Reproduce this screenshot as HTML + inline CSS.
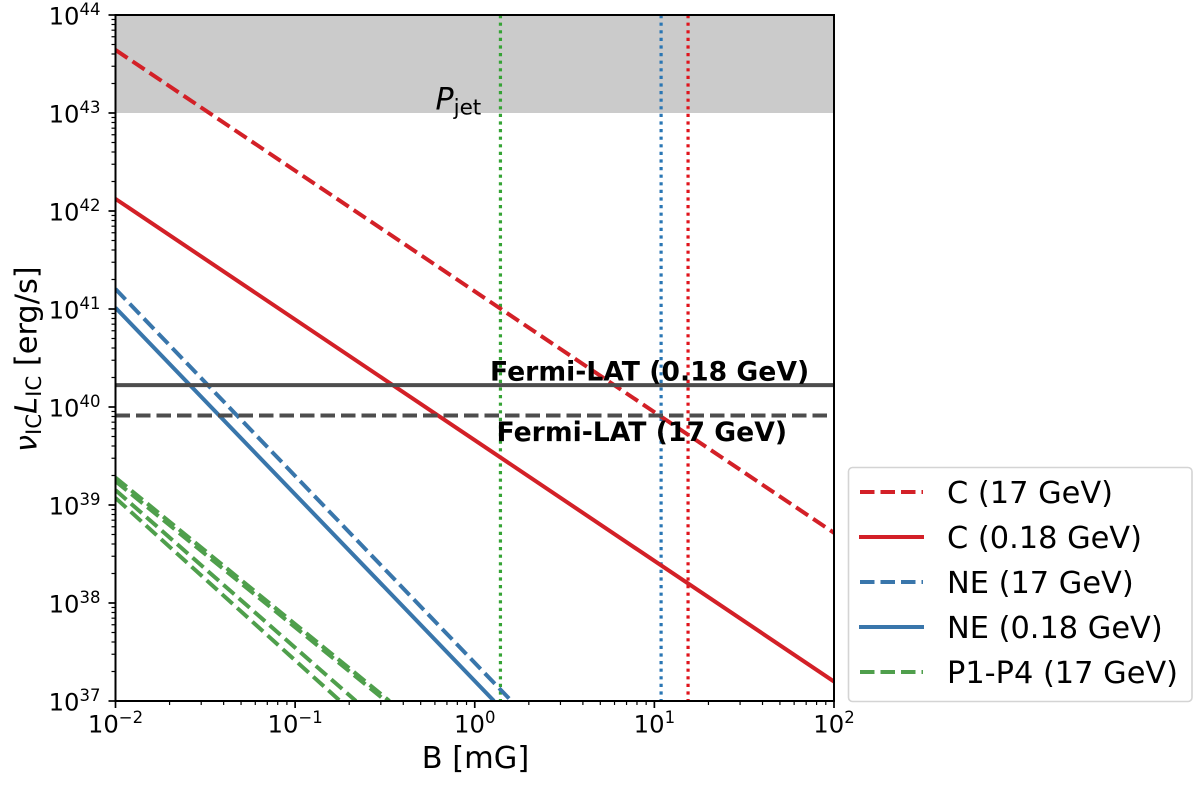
<!DOCTYPE html>
<html lang="en">
<head>
<meta charset="utf-8">
<title>Inverse Compton luminosity versus magnetic field</title>
<style>
html,body{margin:0;padding:0;background:#fff;}
svg{display:block;font-family:"DejaVu Sans","Liberation Sans",sans-serif;filter:blur(0.35px);}
</style>
</head>
<body>
<svg id="chart" width="1200" height="787" viewBox="0 0 1200 787" xmlns="http://www.w3.org/2000/svg">
  <defs><clipPath id="plot-clip"><rect x="115.5" y="15" width="718.5" height="686"/></clipPath></defs>
  <g id="band"></g>
  <g id="series" clip-path="url(#plot-clip)"></g>
  <g id="labels"></g>
  <g id="axes"></g>

  <text x="475.5" y="768" font-size="30.4" text-anchor="middle">B [mG]</text>
  <text transform="translate(36.5,452) rotate(-90)" font-size="30.4"><tspan font-style="italic">ν</tspan><tspan font-size="21.3" dy="4.5">IC</tspan><tspan font-style="italic" dy="-4.5">L</tspan><tspan font-size="21.3" dy="4.5">IC</tspan><tspan dy="-4.5"> [erg/s]</tspan></text>

  <g>
    <rect x="848.5" y="467.5" width="343.5" height="234" rx="4" fill="#fff" stroke="#d4d4d4" stroke-width="1.6"/>
    <g>
      <line x1="860" x2="923" y1="492" y2="492" stroke="#d32027" stroke-width="4" stroke-dasharray="14.5 6"/>
      <text x="947" y="503" font-size="30.4">C (17 GeV)</text>
    </g>
    <g>
      <line x1="859" x2="924" y1="537" y2="537" stroke="#d32027" stroke-width="4"/>
      <text x="947" y="548" font-size="30.4">C (0.18 GeV)</text>
    </g>
    <g>
      <line x1="860" x2="923" y1="582" y2="582" stroke="#3976ab" stroke-width="4" stroke-dasharray="14.5 6"/>
      <text x="947" y="593" font-size="30.4">NE (17 GeV)</text>
    </g>
    <g>
      <line x1="859" x2="924" y1="627" y2="627" stroke="#3976ab" stroke-width="4"/>
      <text x="947" y="638" font-size="30.4">NE (0.18 GeV)</text>
    </g>
    <g>
      <line x1="860" x2="923" y1="672" y2="672" stroke="#4f9f4c" stroke-width="4" stroke-dasharray="14.5 6"/>
      <text x="947" y="683" font-size="30.4">P1-P4 (17 GeV)</text>
    </g>
  </g>
</svg>

<script>
// Chart data
const xDomain = [0.01, 100];
const yDomain = [1e37, 1e44];
const xTickExponents = ["−2", "−1", "0", "1", "2"];
const xTickValues = [0.01, 0.1, 1, 10, 100];
const yTickExponents = ["37", "38", "39", "40", "41", "42", "43", "44"];
const yTickValues = [1e37, 1e38, 1e39, 1e40, 1e41, 1e42, 1e43, 1e44];

const steepB = [0.01, 100];
const cDashed = [4.4e43, 5.2e38];
const cSolid = [1.33e42, 1.58e37];

const neB17 = [0.01, 1.6];
const neDashed = [1.6e41, 1e37];
const neB018 = [0.01, 1.28];
const neSolid = [1.03e41, 1e37];

const p1B = [0.01, 0.335];
const p1Values = [1.9e39, 1e37];
const p2B = [0.01, 0.32];
const p2Values = [1.75e39, 1e37];
const p3B = [0.01, 0.218];
const p3Values = [1.42e39, 1e37];
const p4B = [0.01, 0.178];
const p4Values = [1.18e39, 1e37];

const jetBand = [1e43, 1e44];
const fermiSolid = 1.67e40;
const fermiDashed = 8.2e39;
const vlineC = 15.4;
const vlineNE = 10.9;
const vlineP = 1.39;

// Axis functions
const PX = {l: 115.5, r: 834, t: 15, b: 701};
function xScale(v) {
  const a = Math.log10(xDomain[0]), b = Math.log10(xDomain[1]);
  return PX.l + (Math.log10(v) - a) / (b - a) * (PX.r - PX.l);
}
function yScale(v) {
  const a = Math.log10(yDomain[0]), b = Math.log10(yDomain[1]);
  return PX.b - (Math.log10(v) - a) / (b - a) * (PX.b - PX.t);
}

const NS = 'http://www.w3.org/2000/svg';
function make(tag, parent) {
  const el = document.createElementNS(NS, tag);
  parent.appendChild(el);
  return el;
}
function setLine(el, x1, y1, x2, y2, color, width, dash) {
  el.setAttribute('x1', x1);
  el.setAttribute('y1', y1);
  el.setAttribute('x2', x2);
  el.setAttribute('y2', y2);
  el.setAttribute('stroke', color);
  el.setAttribute('stroke-width', width);
  if (dash) el.setAttribute('stroke-dasharray', dash);
}

const bandLayer = document.getElementById('band');
const seriesLayer = document.getElementById('series');
const labelLayer = document.getElementById('labels');
const axesLayer = document.getElementById('axes');

// Shaded jet power region
const bandRect = make('rect', bandLayer);


bandRect.setAttribute('x', PX.l);
bandRect.setAttribute('width', PX.r - PX.l);
bandRect.setAttribute('y', yScale(jetBand[1]));
bandRect.setAttribute('height', yScale(jetBand[0]) - yScale(jetBand[1]));
bandRect.setAttribute('fill', '#cbcbcb');

const RED = '#d32027', BLUE = '#3976ab', GREEN = '#4f9f4c', GREY = '#4d4d4d';
const DASH = '14.5 6', DOT = '3.2 4.4', LW = 4;

// Vertical dotted limits
const vC = make('line', seriesLayer);


setLine(vC, xScale(vlineC), PX.t, xScale(vlineC), PX.b, '#e0141c', 3.2, DOT);

const vNE = make('line', seriesLayer);


setLine(vNE, xScale(vlineNE), PX.t, xScale(vlineNE), PX.b, '#2a76b4', 3.2, DOT);

const vP = make('line', seriesLayer);


setLine(vP, xScale(vlineP), PX.t, xScale(vlineP), PX.b, '#35a335', 3.2, DOT);

// Series
const lineP1 = make('line', seriesLayer);


setLine(lineP1, xScale(p1B[0]), yScale(p1Values[0]), xScale(p1B[1]), yScale(p1Values[1]), GREEN, LW, DASH);

const lineP2 = make('line', seriesLayer);


setLine(lineP2, xScale(p2B[0]), yScale(p2Values[0]), xScale(p2B[1]), yScale(p2Values[1]), GREEN, LW, DASH);

const lineP3 = make('line', seriesLayer);


setLine(lineP3, xScale(p3B[0]), yScale(p3Values[0]), xScale(p3B[1]), yScale(p3Values[1]), GREEN, LW, DASH);

const lineP4 = make('line', seriesLayer);


setLine(lineP4, xScale(p4B[0]), yScale(p4Values[0]), xScale(p4B[1]), yScale(p4Values[1]), GREEN, LW, DASH);

const lineNED = make('line', seriesLayer);


setLine(lineNED, xScale(neB17[0]), yScale(neDashed[0]), xScale(neB17[1]), yScale(neDashed[1]), BLUE, LW, DASH);

const lineNES = make('line', seriesLayer);


setLine(lineNES, xScale(neB018[0]), yScale(neSolid[0]), xScale(neB018[1]), yScale(neSolid[1]), BLUE, LW);

const lineCD = make('line', seriesLayer);


setLine(lineCD, xScale(steepB[0]), yScale(cDashed[0]), xScale(steepB[1]), yScale(cDashed[1]), RED, LW, DASH);

const lineCS = make('line', seriesLayer);


setLine(lineCS, xScale(steepB[0]), yScale(cSolid[0]), xScale(steepB[1]), yScale(cSolid[1]), RED, LW);

const lineFS = make('line', seriesLayer);


setLine(lineFS, PX.l, yScale(fermiSolid), PX.r, yScale(fermiSolid), GREY, LW);

const lineFD = make('line', seriesLayer);


setLine(lineFD, PX.l, yScale(fermiDashed), PX.r, yScale(fermiDashed), GREY, LW, DASH);

// Annotations
const fermiA = make('text', labelLayer);


fermiA.setAttribute('x', 490);
fermiA.setAttribute('y', 380.5);
fermiA.setAttribute('font-size', 26.65);
fermiA.setAttribute('font-weight', 'bold');
fermiA.textContent = 'Fermi-LAT (0.18 GeV)';

const fermiB = make('text', labelLayer);


fermiB.setAttribute('x', 496.5);
fermiB.setAttribute('y', 441);
fermiB.setAttribute('font-size', 26.65);
fermiB.setAttribute('font-weight', 'bold');
fermiB.textContent = 'Fermi-LAT (17 GeV)';

const pjet = make('text', labelLayer);


pjet.setAttribute('x', 435.5);
pjet.setAttribute('y', 109.5);
pjet.setAttribute('font-size', 30);
const pjetP = make('tspan', pjet);
pjetP.setAttribute('font-style', 'italic');
pjetP.textContent = 'P';
const pjetSub = make('tspan', pjet);
pjetSub.setAttribute('font-size', 21.5);
pjetSub.setAttribute('dy', 4.8);
pjetSub.textContent = 'jet';

// Axis frame and ticks
const frame = make('rect', axesLayer);


frame.setAttribute('x', PX.l);
frame.setAttribute('y', PX.t);
frame.setAttribute('width', PX.r - PX.l);
frame.setAttribute('height', PX.b - PX.t);
frame.setAttribute('fill', 'none');
frame.setAttribute('stroke', '#000');
frame.setAttribute('stroke-width', 2);

const MINORS = [2, 3, 4, 5, 6, 7, 8, 9];
xTickValues.forEach(function (v, i) {
  const x = xScale(v);
  const t = make('line', axesLayer);
  
  
  setLine(t, x, PX.b, x, PX.b + 7, '#000', 1.7);
  const lab = make('text', axesLayer);
  
  
  lab.setAttribute('x', x);
  lab.setAttribute('y', 732.5);
  lab.setAttribute('font-size', 24.3);
  lab.setAttribute('text-anchor', 'middle');
  const base = make('tspan', lab);
  base.textContent = '10';
  const sup = make('tspan', lab);
  sup.setAttribute('font-size', 16.5);
  sup.setAttribute('dy', -9.3);
  sup.textContent = xTickExponents[i];
  if (i < xTickValues.length - 1) {
    MINORS.forEach(function (m) {
      const mx = xScale(v * m);
      const mt = make('line', axesLayer);
      
      
      setLine(mt, mx, PX.b, mx, PX.b + 4, '#000', 1.2);
    });
  }
});

yTickValues.forEach(function (v, i) {
  const y = yScale(v);
  const t = make('line', axesLayer);
  
  
  setLine(t, PX.l - 7, y, PX.l, y, '#000', 1.7);
  const lab = make('text', axesLayer);
  
  
  lab.setAttribute('x', 100.5);
  lab.setAttribute('y', y + 9.3);
  lab.setAttribute('font-size', 24.3);
  lab.setAttribute('text-anchor', 'end');
  const base = make('tspan', lab);
  base.textContent = '10';
  const sup = make('tspan', lab);
  sup.setAttribute('font-size', 16.5);
  sup.setAttribute('dy', -9.3);
  sup.textContent = yTickExponents[i];
  if (i < yTickValues.length - 1) {
    MINORS.forEach(function (m) {
      const my = yScale(v * m);
      const mt = make('line', axesLayer);
      
      
      setLine(mt, PX.l - 4, my, PX.l, my, '#000', 1.2);
    });
  }
});
</script>
</body>
</html>
